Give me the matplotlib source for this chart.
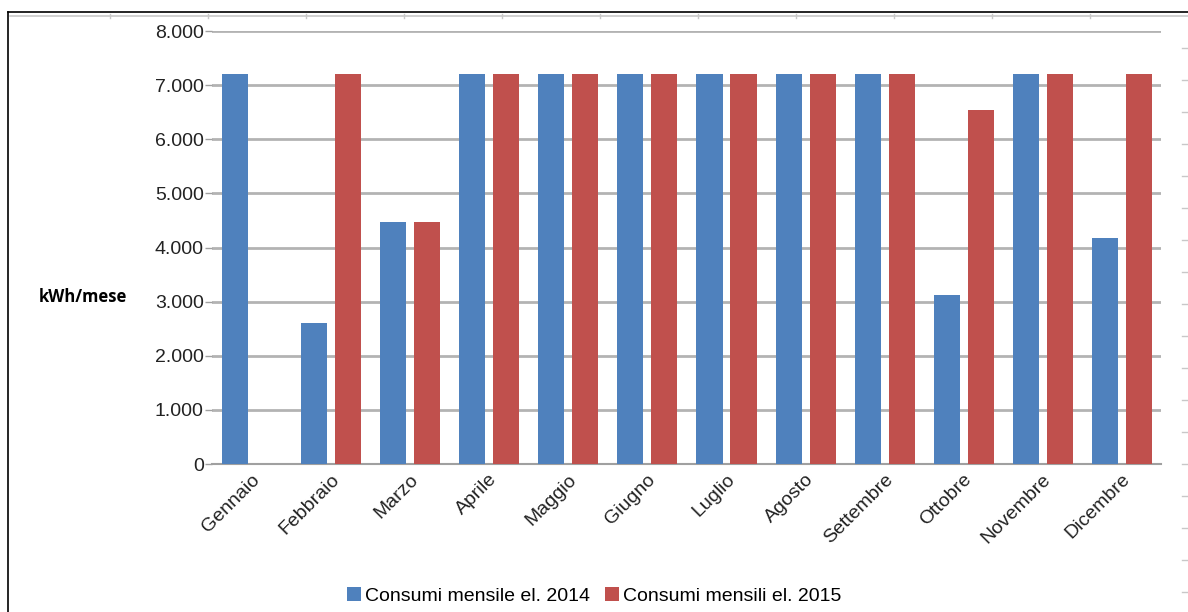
import matplotlib.pyplot as plt
import numpy as np
from matplotlib.lines import Line2D
from matplotlib.ticker import FuncFormatter

mesi = ["Gennaio", "Febbraio", "Marzo", "Aprile", "Maggio", "Giugno",
        "Luglio", "Agosto", "Settembre", "Ottobre", "Novembre", "Dicembre"]
consumi_2014 = [7200, 2600, 4480, 7200, 7200, 7200, 7200, 7200, 7200, 3130, 7200, 4170]
consumi_2015 = [0, 7200, 4480, 7200, 7200, 7200, 7200, 7200, 7200, 6550, 7200, 7200]
y_ticks = [0, 1000, 2000, 3000, 4000, 5000, 6000, 7000, 8000]

BLU = "#4f81bd"
ROSSO = "#c0504d"

plt.rcParams["font.family"] = ["Liberation Sans", "DejaVu Sans"]

fig = plt.figure(figsize=(11.88, 6.12), dpi=100)
ax = fig.add_axes([0.1785, 0.2418, 0.7988, 0.7075])

x = np.arange(len(mesi))
w = 0.33
ax.bar(x - 0.21, consumi_2014, w, color=BLU, label="Consumi mensile el. 2014", zorder=3)
ax.bar(x + 0.22, consumi_2015, w, color=ROSSO, label="Consumi mensili el. 2015", zorder=3)

ax.set_xlim(-0.5, len(mesi) - 0.5)
ax.set_ylim(0, 8000)
ax.set_yticks(y_ticks)
ax.yaxis.set_major_formatter(FuncFormatter(lambda v, p: f"{int(v):,}".replace(",", ".")))
ax.grid(axis="y", color="#b3b3b3", linewidth=2, zorder=0)
ax.set_axisbelow(True)

for s in ["top", "right", "left"]:
    ax.spines[s].set_visible(False)
ax.spines["bottom"].set_color("#a0a0a0")
ax.spines["bottom"].set_linewidth(1.5)

ax.tick_params(axis="y", length=5, width=1, color="#a0a0a0", labelsize=14,
               labelcolor="#222222", pad=1)
ax.tick_params(axis="x", length=0, labelsize=14, labelcolor="#222222", pad=5)
ax.set_xticks(x)
ax.set_xticklabels(mesi, rotation=45, ha="right", rotation_mode="anchor")

fig.text(0.033, 0.515, "kWh/mese", fontsize=12, fontweight="bold",
         family=["Open Sans", "DejaVu Sans"], va="center", ha="left")

fig.legend(loc="lower center", bbox_to_anchor=(0.5, -0.017), ncol=2, frameon=False,
           fontsize=14, handlelength=0.7, handleheight=0.7, handletextpad=0.2,
           columnspacing=0.8)

# cornice del foglio attorno al grafico
fig.add_artist(Line2D([8 / 1188, 1], [1 - 12 / 612, 1 - 12 / 612], color="black", lw=1.2))
fig.add_artist(Line2D([8 / 1188, 8 / 1188], [0, 1 - 12 / 612], color="black", lw=1.2))
fig.add_artist(Line2D([10 / 1188, 1], [1 - 16 / 612, 1 - 16 / 612], color="#c8c8c8", lw=1.2))
for px in range(110, 1188, 98):
    fig.add_artist(Line2D([px / 1188, px / 1188], [1 - 14 / 612, 1 - 18 / 612],
                          color="#c8c8c8", lw=1))
for py in range(48, 612, 32):
    fig.add_artist(Line2D([1182 / 1188, 1188 / 1188], [1 - py / 612, 1 - py / 612],
                          color="#c8c8c8", lw=1))

fig.savefig("out.png", dpi=100)
